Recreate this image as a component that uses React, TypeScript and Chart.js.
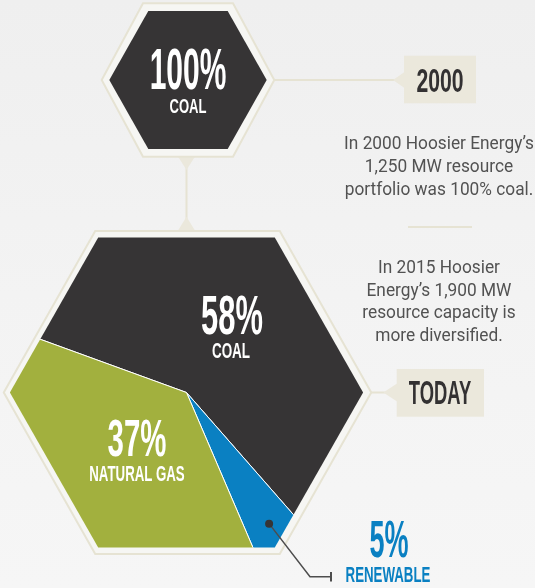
import React, { useEffect, useRef } from "react";
import { Chart, registerables } from "chart.js";

Chart.register(...registerables);

// ---- data ----
const categories = ["Coal", "Renewable", "Natural Gas"];
const categoryLabels = ["COAL", "RENEWABLE", "NATURAL GAS"];
const shares2015 = [58, 5, 37];
const sliceColors = ["#363435", "#0a80c2", "#a2b03e"];
const categories2000 = ["COAL"];
const shares2000 = [100];
const yearLabels = ["2000", "TODAY"];
const note2000 = ["In 2000 Hoosier Energy\u2019s", "1,250 MW resource", "portfolio was 100% coal."];
const note2015 = ["In 2015 Hoosier", "Energy\u2019s 1,900 MW", "resource capacity is", "more diversified."];

const W = 535;
const H = 588;
const CREAM = "#ebe8dc";
const LINE = "#e6e3d3";
const HEAD_FONT = "'Liberation Sans', Arial, sans-serif";
const BODY_FONT = "Roboto, 'Liberation Sans', sans-serif";

function hexPath(ctx: CanvasRenderingContext2D, cx: number, cy: number, hw: number, hh: number, th: number) {
  ctx.beginPath();
  ctx.moveTo(cx - hw, cy);
  ctx.lineTo(cx - th, cy - hh);
  ctx.lineTo(cx + th, cy - hh);
  ctx.lineTo(cx + hw, cy);
  ctx.lineTo(cx + th, cy + hh);
  ctx.lineTo(cx - th, cy + hh);
  ctx.closePath();
}

const decorPlugin = {
  id: "hexDecor",
  beforeDatasetsDraw(chart: any) {
    const ctx: CanvasRenderingContext2D = chart.ctx;
    const arc = chart.getDatasetMeta(0).data[0];
    const cx = arc.x;
    const cy = arc.y;
    ctx.save();
    ctx.lineWidth = 2;
    ctx.strokeStyle = LINE;

    // top connector line to 2000 box
    ctx.beginPath();
    ctx.moveTo(270, 80);
    ctx.lineTo(395, 80);
    ctx.stroke();
    ctx.fillStyle = CREAM;
    ctx.beginPath();
    ctx.moveTo(393, 80);
    ctx.lineTo(404.5, 72);
    ctx.lineTo(404.5, 88);
    ctx.closePath();
    ctx.fill();
    ctx.fillRect(404, 55.7, 72, 47.6);

    // vertical connector
    ctx.beginPath();
    ctx.moveTo(186.5, 155);
    ctx.lineTo(186.5, 231);
    ctx.stroke();
    ctx.fillStyle = CREAM;
    ctx.beginPath();
    ctx.moveTo(178, 156.5);
    ctx.lineTo(195, 156.5);
    ctx.lineTo(186.5, 170);
    ctx.closePath();
    ctx.fill();
    ctx.beginPath();
    ctx.moveTo(178, 230.5);
    ctx.lineTo(195, 230.5);
    ctx.lineTo(186.5, 216.7);
    ctx.closePath();
    ctx.fill();

    // small hexagon (2000)
    hexPath(ctx, 188, 80, 86.3, 76.7, 45);
    ctx.fillStyle = "#f6f6f3";
    ctx.fill();
    ctx.stroke();
    hexPath(ctx, 188, 80, 78.7, 69, 39.7);
    ctx.fillStyle = sliceColors[0];
    ctx.fill();

    // today connector
    ctx.beginPath();
    ctx.moveTo(cx + 183, cy);
    ctx.lineTo(386, cy);
    ctx.stroke();
    ctx.fillStyle = CREAM;
    ctx.beginPath();
    ctx.moveTo(383.3, cy);
    ctx.lineTo(397, cy - 9);
    ctx.lineTo(397, cy + 9);
    ctx.closePath();
    ctx.fill();
    ctx.fillRect(396.7, 369, 87.3, 47.7);

    // big hexagon frame
    hexPath(ctx, cx + 1, cy, 183.75, 161.5, 92.25);
    ctx.fillStyle = "#f6f6f3";
    ctx.fill();
    ctx.stroke();

    // clip pie to hexagon
    hexPath(ctx, cx, cy, 176.6, 155, 88.3);
    ctx.clip();
  },
  afterDatasetsDraw(chart: any) {
    const ctx: CanvasRenderingContext2D = chart.ctx;
    ctx.restore();
    const meta = chart.getDatasetMeta(0);
    const arc = meta.data[1];
    const mid = (arc.startAngle + arc.endAngle) / 2;
    const r = 155;
    const dx = arc.x + r * Math.cos(mid);
    const dy = arc.y + r * Math.sin(mid);
    ctx.save();
    ctx.strokeStyle = "#4d4d4d";
    ctx.lineWidth = 1.5;
    ctx.beginPath();
    ctx.moveTo(dx, dy);
    ctx.lineTo(310, 576.7);
    ctx.lineTo(331, 576.7);
    ctx.stroke();
    ctx.lineWidth = 2;
    ctx.beginPath();
    ctx.moveTo(331, 572);
    ctx.lineTo(331, 581.5);
    ctx.stroke();
    ctx.fillStyle = "#363435";
    ctx.beginPath();
    ctx.arc(dx, dy, 4, 0, Math.PI * 2);
    ctx.fill();
    ctx.restore();
  },
};

function Label(props: { x: number; y: number; size: number; scale: number; color: string; text: string }) {
  const { x, y, size, scale, color, text } = props;
  return (
    <div
      style={{
        position: "absolute",
        left: x,
        top: y,
        transform: `translate(-50%, -50%) scaleX(${scale})`,
        fontFamily: HEAD_FONT,
        fontWeight: 700,
        fontSize: size,
        lineHeight: 1,
        color,
        whiteSpace: "nowrap",
      }}
    >
      {text}
    </div>
  );
}

function Para(props: { x: number; top: number; lh: number; lines: string[] }) {
  const { x, top, lh, lines } = props;
  return (
    <>
      {lines.map((t, i) => (
        <div
          key={i}
          style={{
            position: "absolute",
            left: x,
            top: top + i * lh,
            transform: "translateX(-50%) scaleX(0.96)",
            fontFamily: BODY_FONT,
            fontSize: 18,
            lineHeight: `${lh}px`,
            color: "#525252",
            whiteSpace: "nowrap",
          }}
        >
          {t}
        </div>
      ))}
    </>
  );
}

export default function App() {
  const canvasRef = useRef<HTMLCanvasElement | null>(null);

  useEffect(() => {
    if (!canvasRef.current) return;
    const chart = new Chart(canvasRef.current, {
      type: "pie",
      data: {
        labels: categories,
        datasets: [
          {
            data: shares2015,
            backgroundColor: sliceColors,
            borderColor: "#ffffff",
            borderWidth: 1,
            hoverOffset: 0,
          },
        ],
      },
      options: {
        responsive: false,
        animation: false,
        devicePixelRatio: 1,
        events: [],
        rotation: -70,
        layout: { padding: { left: 1.5, right: 163.5, top: 207.5, bottom: 10.5 } },
        plugins: { legend: { display: false }, tooltip: { enabled: false } },
      },
      plugins: [decorPlugin],
    });
    return () => chart.destroy();
  }, []);

  return (
    <div
      style={{
        position: "absolute",
        left: 0,
        top: 0,
        width: W,
        height: H,
        overflow: "hidden",
        background: "linear-gradient(180deg, #efefef 0%, #f3f3f3 50%, #f6f6f6 100%)",
      }}
    >
      <canvas ref={canvasRef} width={W} height={H} style={{ position: "absolute", left: 0, top: 0 }} />
      <Label x={188.3} y={68.8} size={57} scale={0.526} color="#ffffff" text={`${shares2000[0]}%`} />
      <Label x={187.5} y={104.8} size={21} scale={0.622} color="#ffffff" text={categories2000[0]} />
      <Label x={439.7} y={80.7} size={32.6} scale={0.65} color="#333132" text={yearLabels[0]} />
      <Label x={439.5} y={392.7} size={32.6} scale={0.564} color="#333132" text={yearLabels[1]} />
      <Label x={231.7} y={315.8} size={55.4} scale={0.559} color="#ffffff" text={`${shares2015[0]}%`} />
      <Label x={230.7} y={351.7} size={21.4} scale={0.63} color="#ffffff" text={categoryLabels[0]} />
      <Label x={137.2} y={437.8} size={52.6} scale={0.56} color="#ffffff" text={`${shares2015[2]}%`} />
      <Label x={136.7} y={473.7} size={22.3} scale={0.596} color="#ffffff" text={categoryLabels[2]} />
      <Label x={388.8} y={539} size={51} scale={0.53} color={sliceColors[1]} text={`${shares2015[1]}%`} />
      <Label x={387.8} y={575.3} size={22.3} scale={0.596} color={sliceColors[1]} text={categoryLabels[1]} />
      <Para x={438.5} top={130.5} lh={23.3} lines={note2000} />
      <div style={{ position: "absolute", left: 408.3, top: 225.7, width: 63.4, height: 2, background: LINE }} />
      <Para x={438.5} top={256} lh={22.6} lines={note2015} />
    </div>
  );
}
